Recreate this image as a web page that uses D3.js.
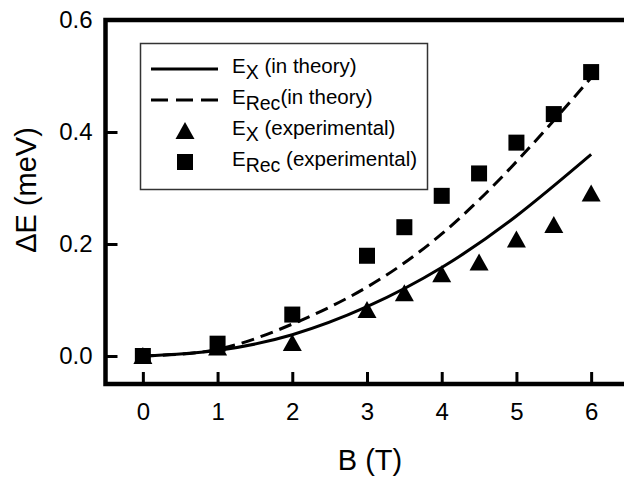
<!DOCTYPE html>
<html>
<head>
<meta charset="utf-8">
<script src="https://cdn.jsdelivr.net/npm/d3@7"></script>
<style>
  body { margin: 0; background: #fff; }
  svg { display: block; font-family: "Liberation Sans", Arial, sans-serif; }
</style>
</head>
<body>
<div id="vis"></div>
<script>
// datos
const B_THEORY = [0, 1, 2, 3, 4, 5, 6];
const EX_THEORY = [0, 0.01, 0.038, 0.088, 0.158, 0.25, 0.36];
const EREC_THEORY = [0, 0.012, 0.057, 0.123, 0.218, 0.347, 0.497];

const B_EXP = [0, 1, 2, 3, 3.5, 4, 4.5, 5, 5.5, 6];
const EX_EXP = [0, 0.015, 0.023, 0.082, 0.112, 0.146, 0.167, 0.208, 0.234, 0.29];
const EREC_EXP = [0, 0.022, 0.074, 0.179, 0.23, 0.286, 0.326, 0.381, 0.432, 0.507];

const X_TICKS = [0, 1, 2, 3, 4, 5, 6];
const Y_TICKS = [0, 0.2, 0.4, 0.6];

const WIDTH = 624;
const HEIGHT = 478;

const SVG = d3.select("#vis").append("svg")
  .attr("width", WIDTH)
  .attr("height", HEIGHT);

const xScale = d3.scaleLinear().domain([-0.5, 6.5]).range([105.5, 628.5]);
const yScale = d3.scaleLinear().domain([-0.05, 0.6]).range([384, 20]);

// ejes
const xAxis = d3.axisBottom(xScale)
  .tickValues(X_TICKS)
  .tickSize(-12)
  .tickPadding(19)
  .tickFormat(d3.format("d"));

const yAxis = d3.axisLeft(yScale)
  .tickValues(Y_TICKS)
  .tickSize(-12)
  .tickPadding(13)
  .tickFormat(d3.format(".1f"));

const gx = SVG.append("g")
  .attr("transform", `translate(0, ${yScale(-0.05)})`)
  .call(xAxis);
const gy = SVG.append("g")
  .attr("transform", `translate(${xScale(-0.5)}, 0)`)
  .call(yAxis);

[gx, gy].forEach(g => {
  g.select(".domain").remove();
  g.selectAll(".tick line").attr("stroke", "#000").attr("stroke-width", 3);
  g.selectAll(".tick text")
    .attr("fill", "#000")
    .style("font-size", "24px")
    .style("font-family", "'Liberation Sans', Arial, sans-serif");
});

// marco
const x0 = xScale(-0.5), x1 = xScale(6.5);
const y0 = yScale(-0.05), y1 = yScale(0.6);
SVG.append("path")
  .attr("d", `M${x1},${y1} L${x0},${y1} L${x0},${y0} L${x1},${y0} Z`)
  .attr("fill", "none")
  .attr("stroke", "#000")
  .attr("stroke-width", 4.5);

// titulos
SVG.append("text")
  .attr("x", (xScale(0) + xScale(6)) / 2 + 3)
  .attr("y", 470)
  .attr("text-anchor", "middle")
  .style("font-size", "29px")
  .text("B (T)");

SVG.append("text")
  .attr("transform", `translate(36, ${(yScale(0) + yScale(0.6)) / 2 + 2}) rotate(-90)`)
  .attr("text-anchor", "middle")
  .style("font-size", "29px")
  .text("\u0394E (meV)");

// curvas teoricas
const line = d3.line()
  .x(d => xScale(d[0]))
  .y(d => yScale(d[1]))
  .curve(d3.curveNatural);

SVG.append("path")
  .datum(B_THEORY.map((b, i) => [b, EX_THEORY[i]]))
  .attr("d", line)
  .attr("fill", "none")
  .attr("stroke", "#000")
  .attr("stroke-width", 3);

SVG.append("path")
  .datum(B_THEORY.map((b, i) => [b, EREC_THEORY[i]]))
  .attr("d", line)
  .attr("fill", "none")
  .attr("stroke", "#000")
  .attr("stroke-width", 3)
  .attr("stroke-dasharray", "13,7");

// simbolos
const triangle = (cx, cy) => `M${cx},${cy - 9} L${cx + 9.5},${cy + 8} L${cx - 9.5},${cy + 8} Z`;

SVG.append("g").selectAll("path")
  .data(B_EXP.map((b, i) => [b, EX_EXP[i]]))
  .join("path")
  .attr("d", d => triangle(xScale(d[0]), yScale(d[1])))
  .attr("fill", "#000");

SVG.append("g").selectAll("rect")
  .data(B_EXP.map((b, i) => [b, EREC_EXP[i]]))
  .join("rect")
  .attr("x", d => xScale(d[0]) - 8)
  .attr("y", d => yScale(d[1]) - 8)
  .attr("width", 16)
  .attr("height", 16)
  .attr("fill", "#000");

// leyenda
const legend = SVG.append("g");
legend.append("rect")
  .attr("x", 140.5).attr("y", 43.5)
  .attr("width", 287).attr("height", 146)
  .attr("fill", "#fff")
  .attr("stroke", "#333")
  .attr("stroke-width", 1.5);

const rows = [
  { sub: "X", rest: " (in theory)", kind: "solid" },
  { sub: "Rec", rest: "(in theory)", kind: "dash" },
  { sub: "X", rest: " (experimental)", kind: "tri" },
  { sub: "Rec", rest: " (experimental)", kind: "sq" },
];

rows.forEach((r, i) => {
  const cy = 69 + i * 31;
  if (r.kind === "solid" || r.kind === "dash") {
    legend.append("line")
      .attr("x1", 151).attr("x2", 218)
      .attr("y1", cy).attr("y2", cy)
      .attr("stroke", "#000")
      .attr("stroke-width", 3)
      .attr("stroke-dasharray", r.kind === "dash" ? "17,8" : null);
  } else if (r.kind === "tri") {
    legend.append("path").attr("d", triangle(185, cy)).attr("fill", "#000");
  } else {
    legend.append("rect")
      .attr("x", 177).attr("y", cy - 8)
      .attr("width", 16).attr("height", 16)
      .attr("fill", "#000");
  }
  const t = legend.append("text")
    .attr("x", 232).attr("y", cy + 4)
    .style("font-size", "20.5px");
  t.append("tspan").text("E");
  t.append("tspan").attr("dy", 6).style("font-size", "19.5px").text(r.sub);
  t.append("tspan").attr("dy", -6).text(r.rest);
});
</script>
</body>
</html>
